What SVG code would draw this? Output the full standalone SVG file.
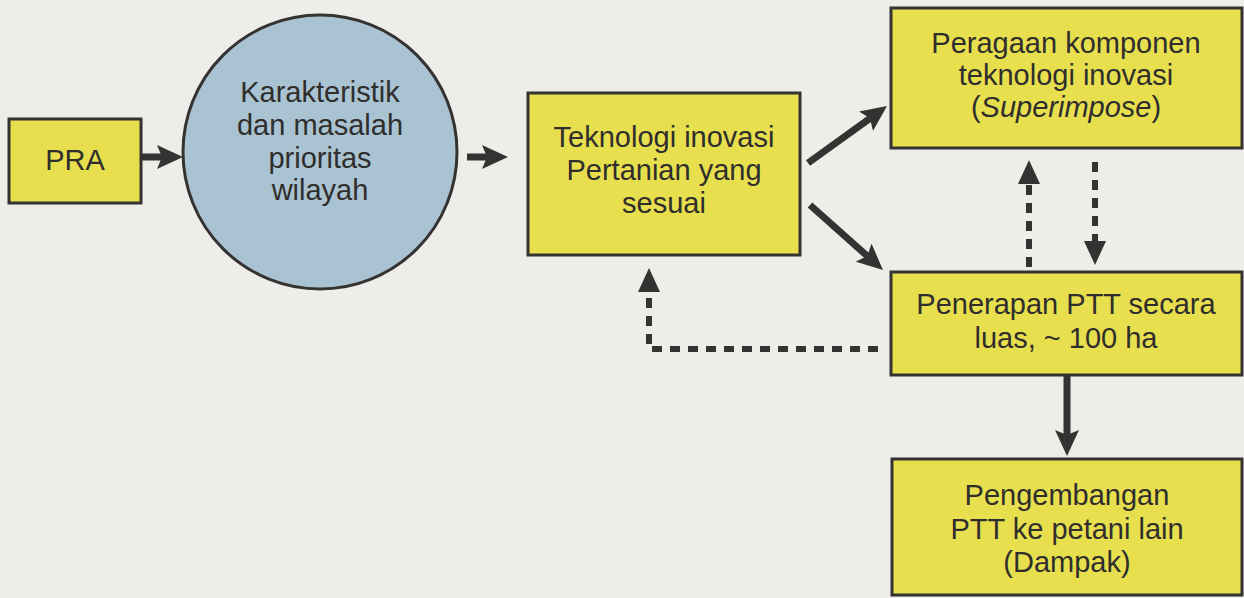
<svg xmlns="http://www.w3.org/2000/svg" width="1244" height="598" viewBox="0 0 1244 598">
<style>
.box{fill:#e8df4f;stroke:#353331;stroke-width:3}
.circ{fill:#aac3d2;stroke:#353331;stroke-width:3}
text{font-family:"Liberation Sans",Arial,sans-serif;font-size:29px;fill:#2f2e2c;text-anchor:middle}
.solid{stroke:#353331;stroke-width:7;fill:none}
.dash{stroke:#353331;stroke-width:6;fill:none;stroke-dasharray:10 8}
</style>
<defs>
<marker id="ah" viewBox="0 0 26 24" refX="5" refY="12" markerWidth="26" markerHeight="24" markerUnits="userSpaceOnUse" orient="auto">
<path d="M0,0 L26,12 L0,24 L5,12 z" fill="#353331"/>
</marker>
<marker id="dh" viewBox="0 0 24 22" refX="0" refY="11" markerWidth="24" markerHeight="22" markerUnits="userSpaceOnUse" orient="auto">
<path d="M0,0 L24,11 L0,22 z" fill="#353331"/>
</marker>
</defs>
<rect x="0" y="0" width="1244" height="598" fill="#eeedea"/>
<g id="connectors">
<line class="solid" x1="141" y1="157" x2="162" y2="157" marker-end="url(#ah)"/>
<line class="solid" x1="467" y1="157" x2="487" y2="157" marker-end="url(#ah)"/>
<line class="solid" x1="808" y1="163" x2="870" y2="118.3" marker-end="url(#ah)"/>
<line class="solid" x1="810" y1="205" x2="867.3" y2="256" marker-end="url(#ah)"/>
<line class="solid" x1="1067" y1="376" x2="1067" y2="435" stroke-width="8" marker-end="url(#ah)"/>
<line class="dash" x1="1029" y1="267" x2="1029" y2="184" marker-end="url(#dh)"/>
<line class="dash" x1="1095" y1="162" x2="1095" y2="241" marker-end="url(#dh)"/>
<path class="dash" d="M878,349 L649,349 L649,292" marker-end="url(#dh)"/>
</g>
<g id="pra">
<rect class="box" x="9" y="119" width="132" height="84"/>
<text x="75" y="170">PRA</text>
</g>
<g id="karakteristik">
<circle class="circ" cx="320" cy="152" r="137"/>
<text x="320" y="102">Karakteristik</text>
<text x="320" y="135">dan masalah</text>
<text x="320" y="168">prioritas</text>
<text x="320" y="200">wilayah</text>
</g>
<g id="teknologi">
<rect class="box" x="528" y="93" width="272" height="162"/>
<text x="664" y="147">Teknologi inovasi</text>
<text x="664" y="180">Pertanian yang</text>
<text x="664" y="213">sesuai</text>
</g>
<g id="peragaan">
<rect class="box" x="891" y="8" width="351" height="140"/>
<text x="1066" y="53">Peragaan komponen</text>
<text x="1066" y="85">teknologi inovasi</text>
<text x="1066" y="117">(<tspan font-style="italic">Superimpose</tspan>)</text>
</g>
<g id="penerapan">
<rect class="box" x="891" y="272" width="351" height="103"/>
<text x="1066" y="314">Penerapan PTT secara</text>
<text x="1066" y="348">luas, ~ 100 ha</text>
</g>
<g id="pengembangan">
<rect class="box" x="892" y="459" width="350" height="136"/>
<text x="1067" y="505">Pengembangan</text>
<text x="1067" y="539">PTT ke petani lain</text>
<text x="1067" y="572">(Dampak)</text>
</g>
</svg>
